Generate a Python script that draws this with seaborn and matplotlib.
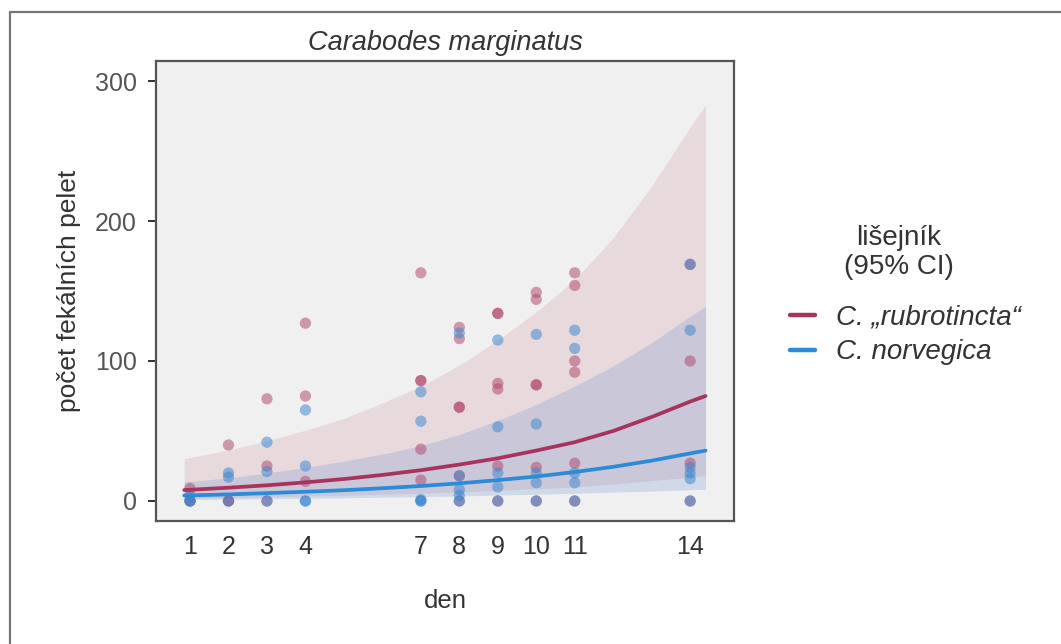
import numpy as np
import pandas as pd
import matplotlib
matplotlib.use("Agg")
import matplotlib.pyplot as plt
from matplotlib.lines import Line2D
import seaborn as sns

# ---------------- data ----------------
species_names = ["C. \u201erubrotincta\u201c", "C. norvegica"]
legend_title = "li\u0161ejn\u00edk\n(95% CI)"
x_ticks = [1, 2, 3, 4, 7, 8, 9, 10, 11, 14]
y_ticks = [0, 100, 200, 300]

rub_days = [1, 1, 1, 2, 2, 2, 3, 3, 3, 4, 4, 4,
            7, 7, 7, 7, 7, 8, 8, 8, 8, 8, 8,
            9, 9, 9, 9, 9, 9, 10, 10, 10, 10, 10, 10,
            11, 11, 11, 11, 11, 11, 14, 14, 14, 14]
rub_counts = [0, 0, 9, 40, 0, 0, 73, 25, 0, 127, 75, 14,
              163, 86, 86, 37, 15, 124, 116, 67, 67, 18, 0,
              134, 134, 84, 80, 25, 0, 149, 144, 83, 83, 24, 0,
              163, 154, 100, 92, 27, 0, 169, 100, 27, 0]

nor_days = [1, 1, 1, 2, 2, 2, 3, 3, 3, 4, 4, 4, 4,
            7, 7, 7, 7, 7, 8, 8, 8, 8, 8,
            9, 9, 9, 9, 9, 10, 10, 10, 10, 10,
            11, 11, 11, 11, 11, 14, 14, 14, 14, 14, 14]
nor_counts = [4, 0, 0, 20, 17, 0, 42, 21, 0, 65, 25, 0, 0,
              78, 57, 1, 0, 0, 120, 18, 8, 4, 0,
              115, 53, 20, 10, 0, 119, 55, 20, 13, 0,
              122, 109, 20, 13, 0, 169, 122, 24, 20, 16, 0]

# fitted model curves and 95% CI
fit_days = [0.85, 1, 2, 3, 4, 5, 6, 7, 8, 9, 10, 11, 12, 13, 14, 14.4]
rub_fit = [7.8, 8, 9.5, 11.2, 13.3, 15.7, 18.6, 22, 26, 30.5, 36, 42, 50, 60, 71, 75]
rub_lo = [1.9, 2, 2.4, 2.9, 3.5, 4.1, 4.8, 5.5, 6.4, 7.5, 8.7, 10, 12, 14.5, 17, 18]
rub_hi = [30.5, 31, 36.5, 43, 50.5, 59, 70, 82, 97, 115, 135, 158, 188, 225, 267, 283]
nor_fit = [3.9, 4, 4.7, 5.6, 6.6, 7.7, 9.1, 10.7, 12.6, 14.9, 17.5, 20.7, 24.4, 28.8, 34, 36]
nor_lo = [1, 1, 1.3, 1.6, 2, 2.3, 2.7, 3.1, 3.6, 4.2, 4.8, 5.5, 6.3, 7.1, 8, 8.4]
nor_hi = [13.7, 14, 16.5, 20, 24, 28.5, 33.5, 39.5, 47.5, 57.5, 69, 82, 96.5, 113, 132, 139]

# ---------------- styling ----------------
sns.set_style("white")
plt.rcParams["font.family"] = ["Liberation Sans", "DejaVu Sans"]

pink = "#A8345E"
blue = "#2C8AD8"
pink_pt = "#B0466C"
blue_pt = "#3A86D0"
txt = "#333333"
tick_txt = "#555555"

fig = plt.figure(figsize=(10.61, 6.44), dpi=100)
W, H = 1061, 644
ax = fig.add_axes([156 / W, 1 - 521 / H, (734 - 156) / W, (521 - 61) / H])
ax.set_facecolor("#F0F0F0")

# CI bands
ax.fill_between(fit_days, rub_lo, rub_hi, color="#B8576F", alpha=0.15, lw=0, zorder=1)
ax.fill_between(fit_days, nor_lo, nor_hi, color="#7F9FD0", alpha=0.28, lw=0, zorder=1.1)

# points
pts = pd.DataFrame({
    "den": rub_days + nor_days,
    "count": rub_counts + nor_counts,
    "species": [species_names[0]] * len(rub_days) + [species_names[1]] * len(nor_days),
})
sns.scatterplot(data=pts, x="den", y="count", hue="species",
                palette={species_names[0]: pink_pt, species_names[1]: blue_pt},
                alpha=0.52, s=66, edgecolor="none", legend=False, ax=ax, zorder=2)

# fit lines
fits = pd.DataFrame({
    "den": fit_days + fit_days,
    "fit": rub_fit + nor_fit,
    "species": [species_names[0]] * len(fit_days) + [species_names[1]] * len(fit_days),
})
sns.lineplot(data=fits, x="den", y="fit", hue="species",
             palette={species_names[0]: pink, species_names[1]: blue},
             linewidth=2.7, legend=False, ax=ax, zorder=3, sort=False,
             estimator=None)

ax.set_xlim(0.116, 15.14)
ax.set_ylim(-14.3, 314.3)
ax.set_xticks(x_ticks)
ax.set_xticklabels([str(v) for v in x_ticks])
ax.set_yticks(y_ticks)
ax.set_yticklabels([str(v) for v in y_ticks])
ax.tick_params(axis="y", length=6, width=1.4, color="#333333", pad=8,
               labelsize=18, labelcolor=tick_txt, left=True)
ax.tick_params(axis="x", length=0, pad=10, labelsize=18, labelcolor=txt)
for sp in ax.spines.values():
    sp.set_visible(True)
    sp.set_color("#555555")
    sp.set_linewidth(1.6)

ax.set_xlabel("den", fontsize=18.5, color=txt, labelpad=22)
ax.set_ylabel("po\u010det fek\u00e1ln\u00edch pelet", fontsize=19, color=txt, labelpad=10)
ax.set_title("Carabodes marginatus", fontsize=19.5, style="italic", color=txt, pad=8)

# legend
fig.text(899 / W, 1 - 253 / H, legend_title, ha="center", va="center",
         fontsize=20, color=txt, linespacing=1.15)
handles = [Line2D([0], [0], color=pink, lw=3.2),
           Line2D([0], [0], color=blue, lw=3.2)]
leg = fig.legend(handles, species_names, loc="upper left",
                 bbox_to_anchor=(790 / W, 1 - 305 / H),
                 frameon=False, borderpad=0, borderaxespad=0,
                 prop={"size": 20, "style": "italic"},
                 handlelength=0.9, handletextpad=0.75,
                 labelspacing=0.3)
for t in leg.get_texts():
    t.set_color(txt)

# outer frame (top and left edges)
fig.add_artist(Line2D([10 / W, 10 / W], [0, 1 - 12 / H], transform=fig.transFigure,
                      color="#777777", lw=1.6))
fig.add_artist(Line2D([10 / W, 1], [1 - 12 / H, 1 - 12 / H], transform=fig.transFigure,
                      color="#777777", lw=1.6))

fig.savefig("out.png", dpi=100, facecolor="white")
